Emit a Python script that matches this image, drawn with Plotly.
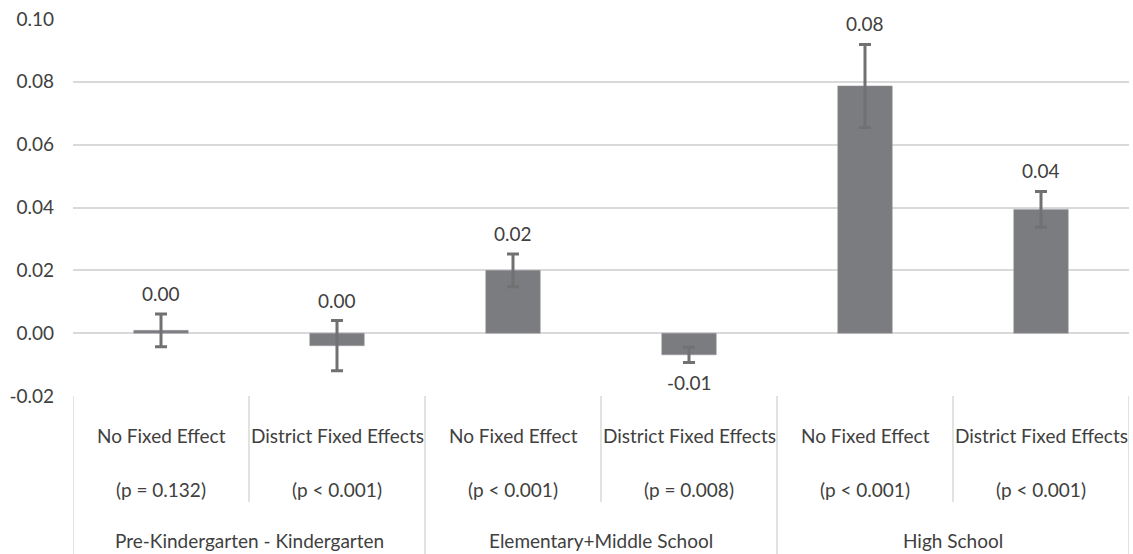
import plotly.graph_objects as go

groups = ["Pre-Kindergarten - Kindergarten", "Elementary+Middle School", "High School"]
models = ["No Fixed Effect", "District Fixed Effects"] * 3
p_values = ["(p = 0.132)", "(p < 0.001)", "(p < 0.001)", "(p = 0.008)", "(p < 0.001)", "(p < 0.001)"]
group_of_bar = [0, 0, 1, 1, 2, 2]
values = [0.0009, -0.0040, 0.0200, -0.0069, 0.0787, 0.0394]
errors = [0.0052, 0.0080, 0.0052, 0.0024, 0.0132, 0.0057]
label_side = ["above", "above", "above", "below", "above", "above"]
y_ticks = [-0.02, 0.0, 0.02, 0.04, 0.06, 0.08, 0.10]

FONT = "Lato"
TXT = "#404040"
GRID = "#d9d9d9"

x_idx = list(range(len(values)))

fig = go.Figure()
fig.add_trace(go.Bar(
    x=x_idx, y=values,
    marker=dict(color="#7b7c80", line=dict(color="#9a9b9e", width=0.5)),
    error_y=dict(type="data", array=errors, visible=True,
                 color="#717171", thickness=3, width=6),
    width=0.31,
    hoverinfo="skip",
))

annotations = []
for i, (v, e, side) in enumerate(zip(values, errors, label_side)):
    txt = f"{round(v, 2) + 0.0:.2f}"
    if side == "above":
        annotations.append(dict(x=i, y=v + e, xref="x", yref="y", text=txt,
                                showarrow=False, yanchor="bottom", yshift=7,
                                font=dict(family=FONT, size=19, color=TXT)))
    else:
        annotations.append(dict(x=i, y=v - e, xref="x", yref="y", text=txt,
                                showarrow=False, yanchor="top", yshift=-7,
                                font=dict(family=FONT, size=19, color=TXT)))

# category labels (two rows) and group labels
for i in x_idx:
    annotations.append(dict(x=i, y=0, xref="x", yref="paper", text=models[i],
                            showarrow=False, yanchor="middle", yshift=-39,
                            font=dict(family=FONT, size=19, color=TXT)))
    annotations.append(dict(x=i, y=0, xref="x", yref="paper", text=p_values[i],
                            showarrow=False, yanchor="middle", yshift=-93,
                            font=dict(family=FONT, size=19, color=TXT)))
for g, name in enumerate(groups):
    members = [i for i in x_idx if group_of_bar[i] == g]
    center = sum(members) / len(members)
    annotations.append(dict(x=center, y=0, xref="x", yref="paper", text=name,
                            showarrow=False, yanchor="middle", yshift=-144,
                            font=dict(family=FONT, size=19, color=TXT)))

shapes = []
# separators between models within a group (short)
for g in range(len(groups)):
    members = [i for i in x_idx if group_of_bar[i] == g]
    for a, b in zip(members[:-1], members[1:]):
        shapes.append(dict(type="line", xref="x", yref="paper", ysizemode="pixel",
                           yanchor=0, x0=(a + b) / 2, x1=(a + b) / 2, y0=0, y1=-106,
                           line=dict(color=GRID, width=1.5)))
# group boundaries (full height)
bounds = [-0.5] + [i + 0.5 for i in x_idx[:-1] if group_of_bar[i] != group_of_bar[i + 1]] + [len(values) - 0.5]
for bx in bounds:
    shapes.append(dict(type="line", xref="x", yref="paper", ysizemode="pixel",
                       yanchor=0, x0=bx, x1=bx, y0=0, y1=-160,
                       line=dict(color=GRID, width=1.5)))

fig.update_layout(
    width=1133, height=554,
    margin=dict(l=73, r=4, t=19, b=158),
    paper_bgcolor="white", plot_bgcolor="white",
    showlegend=False,
    annotations=annotations,
    shapes=shapes,
    font=dict(family=FONT, size=19, color=TXT),
    xaxis=dict(range=[-0.5, len(values) - 0.5], showticklabels=False,
               showgrid=False, zeroline=False, showline=False, fixedrange=True),
    yaxis=dict(range=[-0.02, 0.10], tickvals=y_ticks,
               ticktext=[f"{t:.2f}" for t in y_ticks],
               showgrid=True, gridcolor=GRID, gridwidth=1.5,
               zeroline=False, showline=False, ticks="",
               ticklabelstandoff=18, fixedrange=True,
               tickfont=dict(family=FONT, size=19, color=TXT)),
)

fig.write_html("out.html", config={"displayModeBar": False},
               post_script="document.body.style.margin='0';document.body.style.overflow='hidden';")
